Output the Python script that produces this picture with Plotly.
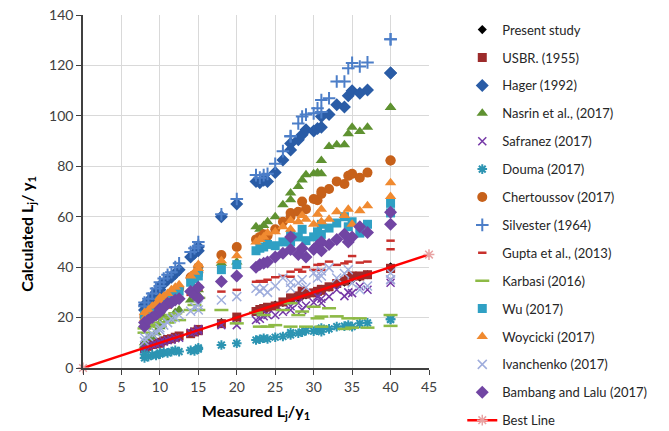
import plotly.graph_objects as go

measured = [8, 8, 8.5, 9, 9.5, 10, 10, 10.5, 11, 11.5, 12, 12.5, 14, 14.5, 15, 15, 18, 20,
            22.5, 23, 23.5, 24, 25, 26, 27, 27, 28, 28.5, 29, 30, 30.5, 31, 31, 32, 33, 34,
            34.5, 35, 36, 37, 40, 40]

present_study = [8, 8.5, 8.5, 9, 9.5, 10, 10.2, 10.5, 11, 11.5, 12, 12.5, 13.8, 14.5, 15, 15.2, 18, 20,
                 22.5, 23, 23.5, 24, 25, 26, 27, 27.2, 28, 28.5, 29, 30, 30.5, 31, 31.2, 32, 33, 34,
                 34.5, 35, 36, 37, 40, 40]
usbr = [8.2, 7.8, 8.6, 9.3, 9.6, 10.2, 9.8, 10.8, 11.3, 11.6, 12.2, 12.7, 13.6, 14.3, 14.8, 15.3, 17.6, 20.2,
        22.4, 23.2, 23.6, 24.1, 24.6, 26.2, 27.8, 27.5, 28.6, 30.5, 29.3, 29.8, 30.4, 31.2, 30.8, 32.2, 33.5, 34.5,
        35.5, 36.5, 36.5, 37.0, 39.5, 39.5]
hager = [23, 25, 26.5, 28, 30, 31, 32.5, 33.5, 35, 36, 37.5, 39, 44, 45.5, 46.5, 48, 60, 65,
         74, 73.5, 74.5, 74, 77.5, 82.5, 86.5, 89, 90.5, 92.5, 94.5, 94, 95, 95.5, 99.7, 100.5, 104.4, 103.5,
         108, 110, 109, 110.3, 117, 117]
nasrin = [10, 9, 12, 12.5, 14, 16.4, 17.7, 20.3, 19, 19.5, 22, 23, 27, 28, 29, 31, 41.5, 42,
          56, 55, 56.5, 58, 60, 64.7, 66.7, 69.4, 72, 74.6, 76.6, 77, 77.4, 82.3, 77, 87.8, 88.5, 88.5,
          92.9, 95.5, 93.8, 95.5, 103.3, 103.3]
safranez = [7.5, 8.5, 8.8, 9.2, 9.5, 9.8, 10.3, 10.5, 11, 11.2, 11.8, 12, 14, 14.4, 14.8, 15.5, 17, 17,
            19, 19.5, 20.5, 21, 21, 22.3, 23, 24.5, 25.8, 23, 24.8, 26, 28.3, 25.8, 27.5, 28.3, 31, 28.5,
            30, 29.7, 32.3, 31, 33.8, 35]
douma = [4, 5.5, 4.5, 5.2, 5, 6, 5.5, 6.2, 6, 6.5, 7, 6.5, 7, 6.8, 7.5, 8, 9.1, 9.8,
         11.1, 11.4, 11.8, 11.5, 12.2, 12.5, 13.1, 14, 13.8, 14.2, 14.8, 14.6, 15, 15.8, 14.4, 15.5, 16.4, 16.6,
         17, 16.4, 17.7, 17.9, 19.3, 19.3]
chertoussov = [20, 21, 22, 23.5, 24.5, 25.5, 27, 27.5, 28.5, 29, 30.5, 31.5, 36, 37, 38, 40, 44.8, 48,
               51, 52, 53, 52.5, 55, 58, 60, 61.5, 62, 66, 63, 67, 66.5, 69, 70, 71, 74, 73,
               76.2, 77, 75.5, 77.5, 82.3, 82.3]
silvester = [24.5, 26, 27.5, 29.5, 31.5, 32.5, 34, 35.5, 37, 38, 40, 41.5, 46, 47.5, 48.5, 50, 61, 67,
             76.5, 75.5, 76.5, 77, 81, 86, 91.8, 92, 97, 99.7, 100.5, 101, 103, 106.3, 101.5, 107, 113.6, 113.6,
             118.9, 121, 119.6, 121.2, 130.4, 130.4]
gupta = [19, 21, 23, 22, 24.5, 22, 25.5, 27.6, 24, 27, 26, 28, 29, 30.5, 31, 32.5, 30.3, 31,
         34.2, 34.5, 34.2, 35, 36, 36.5, 38.2, 36.2, 39, 38.2, 40, 38.9, 40.9, 38.9, 41.2, 42.2, 40.9, 41.5,
         42.2, 44.4, 41.8, 42.2, 50.5, 47.1]
karbasi = [15.7, 14, 16.5, 17, 18, 16.4, 19.5, 20, 18, 21, 21.7, 19, 23, 25, 27.8, 23, 23, 17.7,
           22, 16.4, 21, 16.4, 17, 23, 25.7, 16.4, 21, 22.4, 16.4, 24.3, 19.7, 20.4, 16.4, 23.7, 20.5, 15.5,
           19.7, 16, 19.7, 16, 21, 16.7]
wu = [19.5, 21, 22, 23, 24, 25, 26.5, 27, 27.5, 28.5, 30, 30.5, 34, 35.5, 36.5, 38, 39, 41,
      46.5, 47.5, 48, 49, 48.5, 50, 50, 53, 52, 55, 50.5, 52, 54, 57, 53, 55.5, 57.5, 60,
      56, 58, 53.5, 57, 65.3, 61.5]
woycicki = [19.5, 22, 23, 24.5, 25.5, 26.5, 28, 28.5, 29.5, 31, 32, 33, 36.5, 38, 39.5, 41, 42.5, 44.5,
            50, 51, 52, 53.5, 54, 56, 55, 58.5, 58, 60.5, 59, 57, 61, 63, 58, 59, 62, 60.5,
            63, 57, 62.4, 64.3, 73.5, 68]
ivanchenko = [10.5, 12, 12.5, 13.5, 14, 15, 16, 17, 18, 19.5, 20, 21, 22.5, 24.3, 23, 25, 27, 28.3,
              31.6, 30.5, 31.6, 30, 32.5, 35.7, 31.7, 34, 33.7, 35, 32, 37.7, 35.7, 36.5, 38.5, 39.7, 35.7, 37.5,
              39, 33.7, 31, 32.5, 37.7, 35]
bambang = [16.5, 18, 19, 20, 21, 22.3, 23.5, 24, 25.7, 26, 27, 27.5, 30.3, 29, 27.8, 32, 34.3, 36.5,
           40, 41, 41.5, 42, 44, 45.5, 47, 52, 45, 47.5, 44, 47, 48.5, 50, 46.5, 49, 51, 53,
           50, 52, 56, 53.7, 61.8, 57]

best_x = [0, 45]
best_y = [0, 45]

x_ticks = [0, 5, 10, 15, 20, 25, 30, 35, 40, 45]
y_ticks = [0, 20, 40, 60, 80, 100, 120, 140]

series = [
    ("Present study", present_study, dict(symbol="diamond", color="#000000", size=7)),
    ("USBR. (1955)", usbr, dict(symbol="square", color="#9C2B2B", size=9)),
    ("Hager (1992)", hager, dict(symbol="diamond", color="#2A5CA6", size=10)),
    ("Nasrin et al., (2017)", nasrin, dict(symbol="triangle-up", color="#5F9231", size=10)),
    ("Safranez (2017)", safranez, dict(symbol="x-thin-open", color="#7437A6", size=8, line=dict(width=1.5, color="#7437A6"))),
    ("Douma (2017)", douma, dict(symbol="asterisk-open", color="#2C94B2", size=8, line=dict(width=2, color="#2C94B2"))),
    ("Chertoussov (2017)", chertoussov, dict(symbol="circle", color="#C7611A", size=10)),
    ("Silvester (1964)", silvester, dict(symbol="cross-thin-open", color="#4C7EC8", size=9, line=dict(width=2, color="#4C7EC8"))),
    ("Gupta et al., (2013)", gupta, dict(symbol="line-ew-open", color="#C8302C", size=6, line=dict(width=2.5, color="#C8302C"))),
    ("Karbasi (2016)", karbasi, dict(symbol="line-ew-open", color="#8DBA45", size=10, line=dict(width=2.5, color="#8DBA45"))),
    ("Wu (2017)", wu, dict(symbol="square", color="#2FA0C4", size=9)),
    ("Woycicki (2017)", woycicki, dict(symbol="triangle-up", color="#F08A30", size=10)),
    ("Ivanchenko (2017)", ivanchenko, dict(symbol="x-thin-open", color="#A0AEDD", size=9, line=dict(width=1.5, color="#A0AEDD"))),
    ("Bambang and Lalu (2017)", bambang, dict(symbol="diamond", color="#7145A3", size=10)),
]

fig = go.Figure()
for i, (name, vals, mk) in enumerate(series):
    fig.add_trace(go.Scatter(x=measured, y=vals, mode="markers", name=name,
                             marker=mk, legendgroup="g%d" % i, cliponaxis=False))

fig.add_trace(go.Scatter(x=best_x, y=best_y, mode="lines+markers", name="Best Line",
                         line=dict(color="#FF0000", width=2.5),
                         marker=dict(symbol="asterisk-open", size=9, color="#E8A3A3",
                                     line=dict(width=1.5, color="#E8A3A3")),
                         legendgroup="best", cliponaxis=False))

font_fam = "Lato, 'Open Sans', sans-serif"
fig.update_layout(
    width=669, height=431,
    margin=dict(l=83, r=240, t=15, b=63, autoexpand=False),
    paper_bgcolor="white", plot_bgcolor="white",
    font=dict(family=font_fam, size=13, color="#404040"),
    showlegend=True,
    legend=dict(xref="container", yref="container", x=0.691, y=0.966, xanchor="left", yanchor="top",
                font=dict(size=13, color="#262626", family=font_fam),
                tracegroupgap=8, itemwidth=30, bgcolor="rgba(0,0,0,0)", maxheight=1.0),
    xaxis=dict(range=[0, 45], tickvals=x_ticks, showgrid=True, gridcolor="#D9D9D9", gridwidth=1,
               showline=True, linecolor="#404040", linewidth=1.5, ticks="outside", ticklen=5,
               tickcolor="#404040", zeroline=False, tickfont=dict(size=14, color="#404040"),
               automargin=False,
               title=dict(text="<b>Measured L<sub>j</sub>/y<sub>1</sub></b>", font=dict(size=16, color="#000000"),
                          standoff=12)),
    yaxis=dict(range=[0, 140], tickvals=y_ticks, showgrid=True, gridcolor="#D9D9D9", gridwidth=1,
               showline=True, linecolor="#404040", linewidth=1.5, ticks="outside", ticklen=5,
               tickcolor="#404040", zeroline=False, tickfont=dict(size=14, color="#404040"),
               automargin=False),
    annotations=[dict(text="<b>Calculated L<sub>j</sub>/ y<sub>1</sub></b>", textangle=-90,
                      xref="paper", yref="paper", x=-0.159, y=0.38, xanchor="center", yanchor="middle",
                      showarrow=False, font=dict(size=16, color="#000000", family=font_fam))],
)

fig.write_html("out.html", config={"displayModeBar": False},
               post_script="document.body.style.margin='0px';")
